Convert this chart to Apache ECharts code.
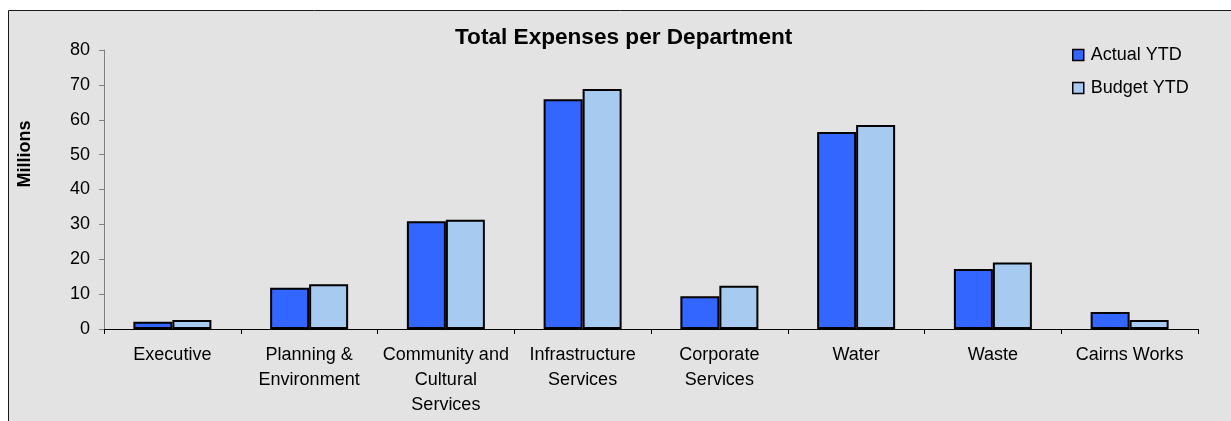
<!DOCTYPE html>
<html>
<head>
<meta charset="utf-8">
<script src="https://cdn.jsdelivr.net/npm/echarts@6/dist/echarts.min.js"></script>
<style>
  html, body { margin: 0; padding: 0; background: #ffffff; }
  #chart { width: 1231px; height: 421px; }
</style>
</head>
<body>
<div id="chart"></div>
<script>
// Department names (line breaks as shown under the axis)
const departments = [
  'Executive',
  'Planning &\nEnvironment',
  'Community and\nCultural\nServices',
  'Infrastructure\nServices',
  'Corporate\nServices',
  'Water',
  'Waste',
  'Cairns Works'
];

// Expenses in millions
const actualYTD = [2.1, 11.8, 30.9, 65.9, 9.4, 56.5, 17.2, 4.9];
const budgetYTD = [2.6, 12.8, 31.3, 68.8, 12.4, 58.5, 19.1, 2.6];

const seriesNames = ['Actual YTD', 'Budget YTD'];
const yTicks = { min: 0, max: 80, interval: 10 };

const FONT = 'Arial, "Liberation Sans", sans-serif';

const chart = echarts.init(document.getElementById('chart'));

chart.setOption({
  backgroundColor: '#ffffff',
  animation: false,
  graphic: [
    {
      type: 'rect',
      z: -10,
      silent: true,
      shape: { x: 8.5, y: 10.5, width: 1240, height: 430 },
      style: { fill: '#e3e3e3', stroke: '#1a1a1a', lineWidth: 1 }
    },
    {
      type: 'text',
      x: 25,
      y: 154,
      rotation: Math.PI / 2,
      style: {
        text: 'Millions',
        font: 'bold 18px ' + FONT,
        fill: '#000000',
        align: 'center',
        verticalAlign: 'middle'
      }
    }
  ],
  title: {
    text: 'Total Expenses per Department',
    left: 455,
    top: 26,
    padding: 0,
    textStyle: {
      fontFamily: FONT,
      fontSize: 22.6,
      fontWeight: 'bold',
      color: '#000000'
    }
  },
  legend: {
    orient: 'vertical',
    left: 1072,
    top: 46,
    padding: 0,
    itemWidth: 11,
    itemHeight: 11,
    itemGap: 15,
    icon: 'rect',
    data: seriesNames,
    itemStyle: { borderColor: '#000000', borderWidth: 1.5 },
    textStyle: {
      fontFamily: FONT,
      fontSize: 18,
      lineHeight: 18,
      color: '#000000',
      padding: [0, 0, 0, 2]
    }
  },
  grid: {
    left: 104,
    top: 50,
    right: 33,
    bottom: 92,
    containLabel: false
  },
  xAxis: {
    type: 'category',
    data: departments,
    axisLine: { lineStyle: { color: '#000000', width: 1 } },
    axisTick: { show: true, length: 5, lineStyle: { color: '#000000' } },
    axisLabel: {
      interval: 0,
      margin: 14,
      fontFamily: FONT,
      fontSize: 18,
      lineHeight: 25,
      color: '#000000',
      align: 'center'
    },
    splitLine: { show: false }
  },
  yAxis: {
    type: 'value',
    min: yTicks.min,
    max: yTicks.max,
    interval: yTicks.interval,
    axisLine: { show: true, lineStyle: { color: '#808080', width: 1 } },
    axisTick: { show: true, length: 5, lineStyle: { color: '#808080' } },
    axisLabel: {
      margin: 14,
      fontFamily: FONT,
      fontSize: 18,
      color: '#000000'
    },
    splitLine: { show: false }
  },
  series: [
    {
      name: seriesNames[0],
      type: 'bar',
      data: actualYTD,
      barWidth: 39,
      barGap: '0%',
      itemStyle: { color: '#3366ff', borderColor: '#000000', borderWidth: 2 }
    },
    {
      name: seriesNames[1],
      type: 'bar',
      data: budgetYTD,
      barWidth: 39,
      barGap: '0%',
      itemStyle: { color: '#a6caf0', borderColor: '#000000', borderWidth: 2 }
    }
  ]
});
</script>
</body>
</html>
